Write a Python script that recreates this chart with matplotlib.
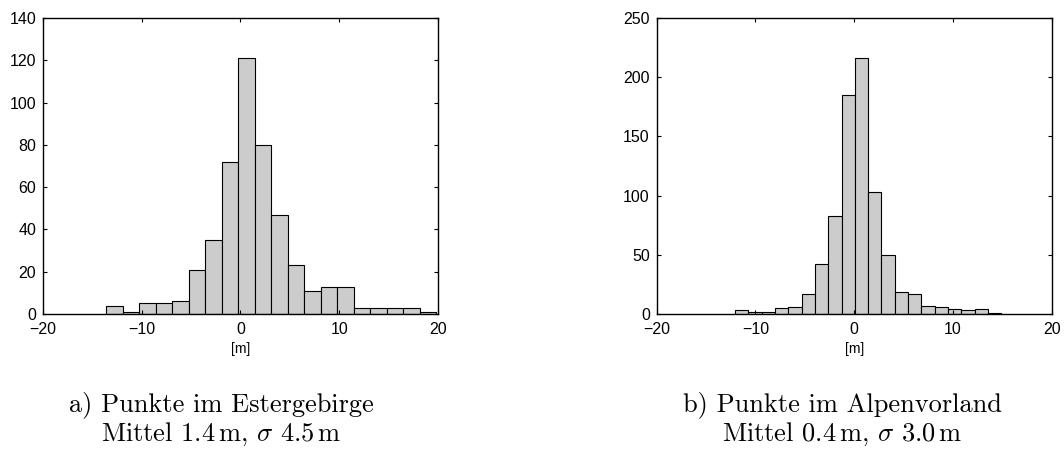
import numpy as np
import matplotlib
matplotlib.use("Agg")
import matplotlib.pyplot as plt

# histogram a) Estergebirge: 20 bins between min and max of the differences
est_range = (-13.58, 19.85)
est_counts = [4, 1, 5, 5, 6, 21, 35, 72, 121, 80, 47, 23, 11, 13, 13, 3, 3, 3, 3, 1]

# histogram b) Alpenvorland
alp_range = (-12.05, 14.88)
alp_counts = [3, 2, 2, 5, 6, 17, 42, 83, 185, 216, 103, 50, 19, 17, 7, 6, 4, 3, 4, 1]

x_ticks = [-20, -10, 0, 10, 20]
est_yticks = [0, 20, 40, 60, 80, 100, 120, 140]
alp_yticks = [0, 50, 100, 150, 200, 250]

captions = [
    ("a) Punkte im Estergebirge", r"Mittel 1.4$\,$m, $\sigma$ 4.5$\,$m"),
    ("b) Punkte im Alpenvorland", r"Mittel 0.4$\,$m, $\sigma$ 3.0$\,$m"),
]

plt.rcParams["font.family"] = ["Liberation Sans", "DejaVu Sans"]
plt.rcParams["mathtext.fontset"] = "cm"


def draw_hist(ax, value_range, counts, yticks):
    edges = np.linspace(value_range[0], value_range[1], len(counts) + 1)
    centers = (edges[:-1] + edges[1:]) / 2
    ax.hist(centers, bins=edges, weights=counts, color="#cccccc",
            edgecolor="black", linewidth=0.8)
    ax.set_xlim(-20, 20)
    ax.set_ylim(0, yticks[-1])
    ax.set_xticks(x_ticks)
    ax.set_yticks(yticks)
    ax.tick_params(direction="in", length=3, width=0.8, top=True, right=True,
                   labelsize=11.5, colors="black")
    ax.tick_params(axis="x", pad=6)
    ax.tick_params(axis="y", pad=5)
    for s in ax.spines.values():
        s.set_linewidth(1.0)
    ax.set_xlabel("[m]", fontsize=10, labelpad=3)


fig = plt.figure(figsize=(10.64, 4.5), dpi=100)
ax1 = fig.add_axes([0.0404, 0.3022, 0.3712, 0.6578])
ax2 = fig.add_axes([0.6172, 0.3022, 0.3712, 0.6578])

draw_hist(ax1, est_range, est_counts, est_yticks)
draw_hist(ax2, alp_range, alp_counts, alp_yticks)

for xc, (line1, line2) in zip([0.2077, 0.7914], captions):
    fig.text(xc, 0.086, line1, ha="center", va="baseline",
             family="cmr10", fontsize=19)
    fig.text(xc, 0.02, line2, ha="center", va="baseline",
             family="cmr10", fontsize=19)

fig.savefig("out.png", dpi=100)
